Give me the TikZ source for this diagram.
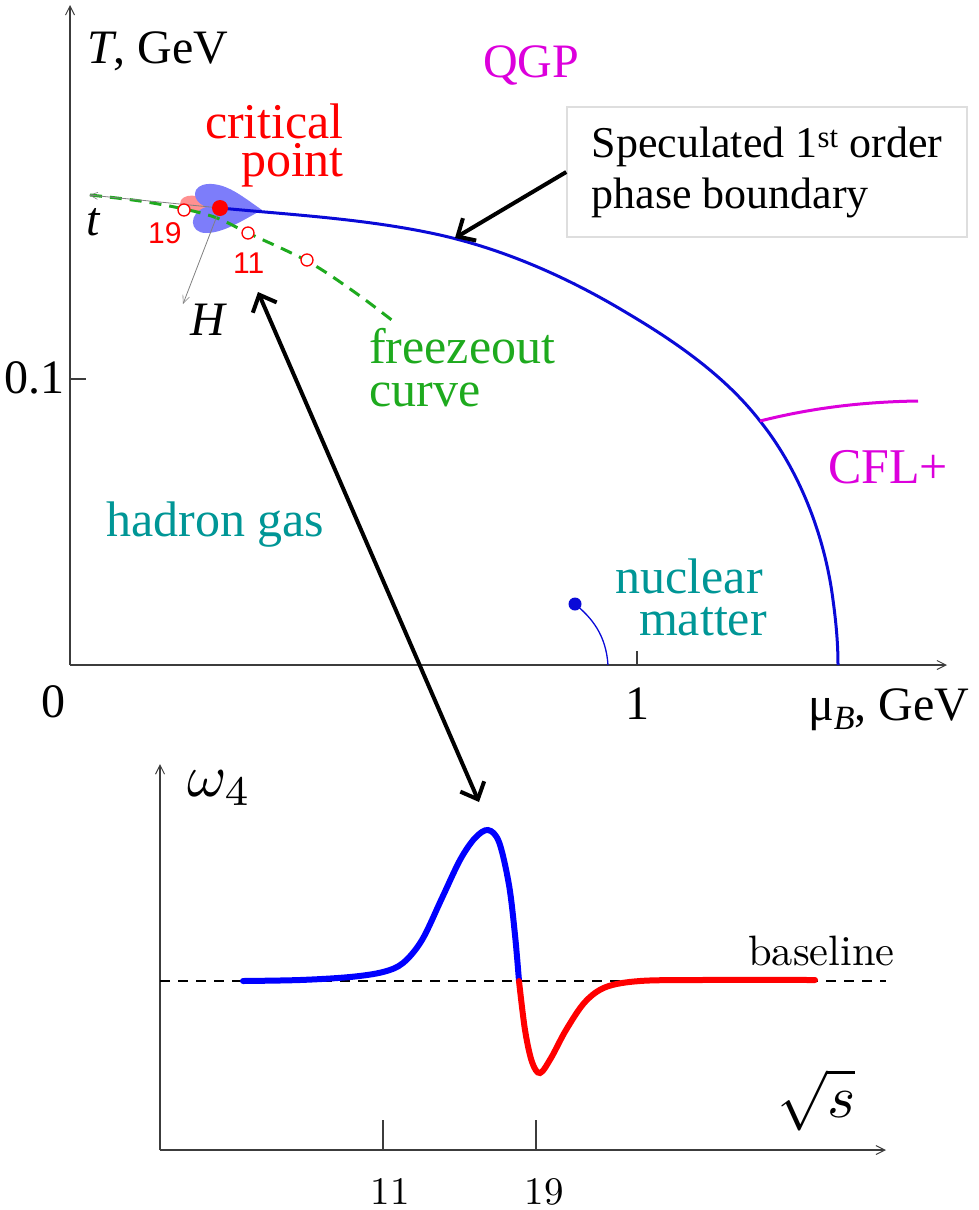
\documentclass[tikz,border=0pt]{standalone}
\usepackage{fontspec}
\setmainfont{Liberation Serif}
\newfontfamily\lsans{Liberation Sans}
\newfontfamily\lmfont{Latin Modern Roman}
\usetikzlibrary{arrows.meta}
\definecolor{phaseblue}{RGB}{10,10,215}
\definecolor{fgreen}{RGB}{30,170,30}
\definecolor{mag}{RGB}{220,0,220}
\definecolor{tealc}{RGB}{0,150,150}
\definecolor{boxgray}{RGB}{222,222,222}
\definecolor{lobeblue}{RGB}{125,125,250}
\definecolor{lobepink}{RGB}{255,145,145}
\definecolor{axgray}{RGB}{60,60,60}
\tikzset{
  axisline/.style={line width=1.3pt, draw=axgray, -{Straight Barb[length=9pt,width=9pt,line width=1pt]}},
  ticks/.style={line width=1.3pt, draw=axgray},
  biglbl/.style={font=\fontsize{50}{54}\selectfont, inner sep=0pt},
  axlbl/.style={font=\fontsize{48}{52}\selectfont, inner sep=0pt},
  cmlbl/.style={font=\lmfont\fontsize{10}{12}\selectfont, inner sep=0pt},
  redsans/.style={font=\lsans\fontsize{30}{32}\selectfont, text=red, inner sep=0pt},
  opencirc/.style={circle, draw=red, fill=white, line width=1.3pt, minimum size=12pt, inner sep=0pt},
  thinarrow/.style={line width=0.8pt, draw=gray, -{Straight Barb[length=8pt,width=7pt,line width=0.6pt]}},
  bigarrow/.style={line width=4pt, -{Straight Barb[length=14pt,width=26pt,line width=4pt]}},
  dblarrow/.style={line width=4pt, {Straight Barb[length=14pt,width=26pt,line width=4pt]}-{Straight Barb[length=14pt,width=26pt,line width=4pt]}},
  phase/.style={line width=3pt, draw=phaseblue},
  freeze/.style={line width=3pt, draw=fgreen, dash pattern=on 12pt off 8pt},
  curveb/.style={line width=6pt, draw=blue, line cap=round},
  curver/.style={line width=6pt, draw=red, line cap=round},
}
\begin{document}
\begin{tikzpicture}[x=1pt,y=-1pt]
\useasboundingbox (0,0) rectangle (978,1210);
% ---------- top panel axes ----------
\coordinate (o) at (70,665);
\coordinate (ytop) at (70,5);
\coordinate (xend) at (947,665);
\draw[axisline] (o) -- (ytop);
\draw[axisline] (o) -- (xend);
\coordinate (t01a) at (70,379); \coordinate (t01b) at (86,379);
\draw[ticks] (t01a) -- (t01b);
\coordinate (t1a) at (637,665); \coordinate (t1b) at (637,651);
\draw[ticks] (t1a) -- (t1b);
\node[axlbl, anchor=base east] (l01) at (65,393) {0.1};
\node[axlbl, anchor=base] (l0) at (53,717) {0};
\node[axlbl, anchor=base] (l1) at (637,719) {1};
\node[axlbl, anchor=base west] (lT) at (87,63) {\textit{T}, GeV};
\node[axlbl, anchor=base west] (lmu) at (808,720) {μ\raisebox{-0.2em}{\fontsize{34}{34}\selectfont\textit{B}}, GeV};
% ---------- phase labels ----------
\node[axlbl, text=mag, anchor=base west] (qgp) at (483,77) {QGP};
\node[biglbl, text=red, anchor=base east] (crit1) at (344,138) {critical};
\node[biglbl, text=red, anchor=base east] (crit2) at (344,176) {point};
\node[biglbl, text=fgreen, anchor=base west] (frz1) at (369,363) {freezeout};
\node[biglbl, text=fgreen, anchor=base west] (frz2) at (369,406) {curve};
\node[biglbl, text=tealc, anchor=base west] (had) at (106,536) {hadron gas};
\node[biglbl, text=tealc, anchor=base east] (nuc1) at (763,593) {nuclear};
\node[biglbl, text=tealc, anchor=base east] (nuc2) at (767,635) {matter};
\node[biglbl, text=mag, anchor=base west] (cfl) at (828,483) {CFL+};
% ---------- critical region lobes ----------
\fill[lobepink] (218,208) .. controls (205,195) and (187,192) .. (181,200)
  .. controls (176,210) and (195,215) .. (218,211) -- cycle;
\fill[lobeblue] (262,210) .. controls (243,197) and (227,183) .. (208,184)
  .. controls (192,185) and (190,200) .. (206,207)
  .. controls (188,213) and (189,233) .. (206,233)
  .. controls (224,233) and (243,220) .. (262,210) -- cycle;
% ---------- freezeout curve ----------
\draw[freeze] plot[smooth, tension=0.6] coordinates {(90,195) (140,201) (184,209) (217,218) (248,233) (307,261) (353,291) (393,321)};
% ---------- phase boundary ----------
\coordinate (pA) at (220,208);
\coordinate (pB) at (440,235);
\coordinate (pC) at (627,313);
\coordinate (pD) at (760,421);
\coordinate (pE) at (833,600);
\coordinate (pF) at (838,665);
\draw[phase] (pA) .. controls (294,215) and (368,219) .. (pB)
  .. controls (506,250) and (569,278) .. (pC)
  .. controls (676,342) and (725,376) .. (pD)
  .. controls (800,471) and (825,537) .. (pE)
  .. controls (836,622) and (838,643) .. (pF);
\coordinate (pbhit) at (455,238);
% CFL line
\coordinate (cflend) at (918,401);
\draw[line width=3pt, draw=mag] (pD) .. controls (800,411) and (850,402) .. (cflend);
% nuclear matter
\node[circle, fill=phaseblue, minimum size=13pt, inner sep=0pt] (nm) at (575,604) {};
\coordinate (nmend) at (608,665);
\draw[line width=1.3pt, draw=phaseblue] (nm.center) .. controls (592,618) and (606,635) .. (nmend);
% ---------- t and H arrows ----------
\coordinate (tend) at (89,195);
\coordinate (hend) at (183,304);
\draw[thinarrow] (pA) -- (tend);
\draw[thinarrow] (pA) -- (hend);
\node[axlbl, anchor=base west] (lt) at (86,235) {\textit{t}};
\node[axlbl, anchor=base west] (lH) at (190,335) {\textit{H}};
% points
\node[opencirc] (c19) at (184,210) {};
\node[opencirc] (c11) at (248,233) {};
\node[opencirc] (c3) at (307,260) {};
\node[circle, fill=red, minimum size=16pt, inner sep=0pt] (cp) at (pA) {};
\node[redsans, anchor=base west] (n19) at (148,243) {19};
\node[redsans, anchor=base west] (n11) at (233,273) {11};
% ---------- box ----------
\node[draw=boxgray, line width=1.5pt, minimum width=400pt, minimum height=130pt,
      align=left, font=\fontsize{44}{51}\selectfont] (box) at (767,172)
  {Speculated 1\textsuperscript{st} order\\phase boundary};
\draw[bigarrow] (box.west) -- (pbhit);
% ---------- double arrow ----------
\coordinate (da1) at (258,292);
\coordinate (da2) at (479,802);
\draw[dblarrow] (da1) -- (da2);
% ---------- lower panel ----------
\coordinate (o2) at (160,1150);
\coordinate (y2) at (160,764);
\coordinate (x2) at (886,1150);
\draw[axisline] (o2) -- (y2);
\draw[axisline] (o2) -- (x2);
\coordinate (k11a) at (383,1150); \coordinate (k11b) at (383,1120);
\coordinate (k19a) at (536,1150); \coordinate (k19b) at (536,1120);
\draw[ticks] (k11a) -- (k11b);
\draw[ticks] (k19a) -- (k19b);
\node[cmlbl, anchor=base] (b11) at (390,1204) {\scalebox{3.9}{11}};
\node[cmlbl, anchor=base] (b19) at (544,1204) {\scalebox{3.9}{19}};
\coordinate (bl1) at (160,981);
\coordinate (bl2) at (886,981);
\draw[line width=1.3pt, dash pattern=on 10pt off 8pt] (bl1) -- (bl2);
\node[cmlbl, anchor=base west] (blab) at (748,965) {\scalebox{4.25}{baseline}};
\node[inner sep=0pt, anchor=base west] (om) at (187,796) {\scalebox{6}{$\omega_4$}};
\node[inner sep=0pt, anchor=base west] (rs) at (777,1117) {\scalebox{6}{$\sqrt{s}$}};
\draw[curveb] plot[smooth, tension=0.55] coordinates {(243,981) (300,980) (350,977) (383,972) (403,963) (422,940) (442,898) (460,860) (475,838) (488,830) (499,842) (509,885) (515,935) (519,981)};
\draw[curver] plot[smooth, tension=0.55] coordinates {(519,981) (525,1030) (532,1062) (540,1073) (551,1058) (566,1030) (585,1002) (606,987) (640,981) (700,980) (815,980)};
\end{tikzpicture}
\end{document}
